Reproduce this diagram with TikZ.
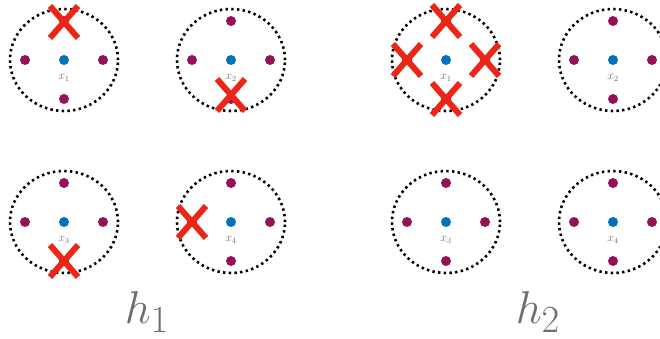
\documentclass[tikz,border=0pt]{standalone}
\usetikzlibrary{shapes.geometric,shapes.misc}
\definecolor{dotpurple}{RGB}{150,18,88}
\definecolor{dotblue}{RGB}{0,114,188}
\definecolor{xred}{RGB}{236,38,22}
\definecolor{labgray}{RGB}{110,110,110}
\begin{document}
\begin{tikzpicture}[x=1pt,y=-1pt,
  ring/.style={ellipse,draw,dash pattern=on 2.4pt off 3.3pt,line width=2.6pt,minimum width=108pt,minimum height=102pt,inner sep=0pt},
  pdot/.style={circle,fill=dotpurple,inner sep=0pt,minimum size=10pt},
  bdot/.style={circle,fill=dotblue,inner sep=0pt,minimum size=10pt},
  xlab/.style={font=\large,text=labgray,inner sep=0pt},
  hlab/.style={font=\Huge,text=labgray,inner sep=0pt,scale=1.85,transform shape},
  cross/.style={cross out,draw=xred,line width=6pt,minimum width=22pt,minimum height=26pt,inner sep=0pt}
]
\useasboundingbox (0,0) rectangle (660,339);
% two groups of four neighbourhoods
\foreach \g/\dx in {a/0,b/382}{
  \foreach \n/\cx/\cy in {1/64/60,2/231/60,3/64/222,4/231/222}{
    \node[ring] (\g\n) at (\cx+\dx,\cy) {};
    \node[bdot] (\g\n c) at (\cx+\dx,\cy) {};
    \node[pdot] (\g\n n) at (\cx+\dx,\cy-39) {};
    \node[pdot] (\g\n s) at (\cx+\dx,\cy+39) {};
    \node[pdot] (\g\n w) at (\cx+\dx-39,\cy) {};
    \node[pdot] (\g\n e) at (\cx+\dx+39,\cy) {};
    \node[xlab] (\g\n l) at (\cx+\dx,\cy+18) {$x_\n$};
  }
}
% removed neighbours
\node[cross] (k1) at ([yshift=-1pt]a1n) {};
\node[cross] (k2) at ([yshift=4pt]a2s) {};
\node[cross] (k3) at (a3s) {};
\node[cross] (k4) at (a4w) {};
\node[cross] (k5) at (b1n) {};
\node[cross] (k6) at (b1s) {};
\node[cross] (k7) at (b1w) {};
\node[cross] (k8) at (b1e) {};
\node[hlab] (h1) at (147,312) {$h_1$};
\node[hlab] (h2) at (538,312) {$h_2$};
\end{tikzpicture}
\end{document}
